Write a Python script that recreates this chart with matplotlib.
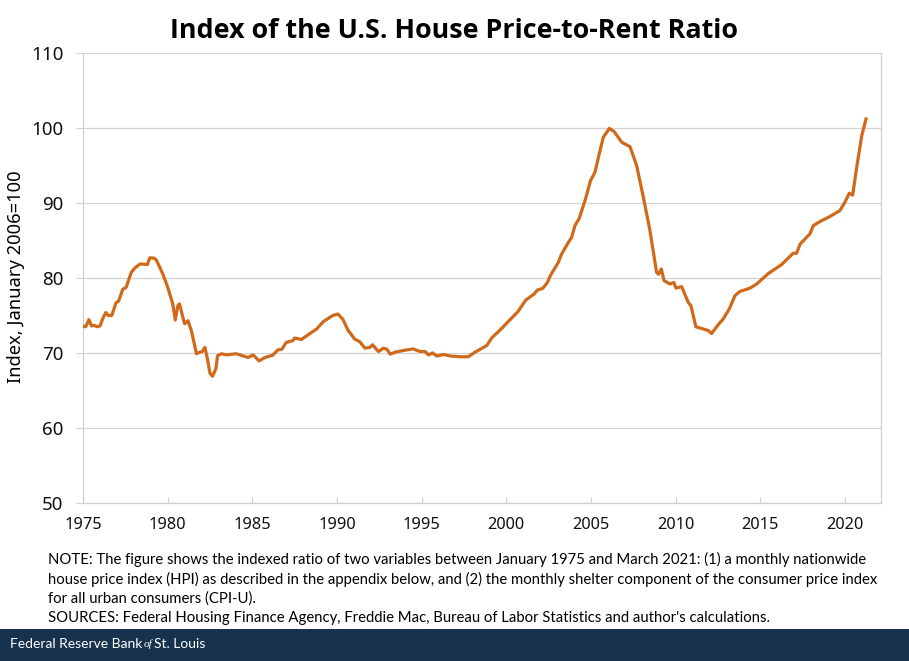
import matplotlib.pyplot as plt
from matplotlib.patches import Rectangle

W, H = 909, 661

years = [
    1975.0, 1975.16, 1975.35, 1975.5, 1975.65, 1975.83, 1976.0, 1976.2, 1976.35, 1976.5,
    1976.7, 1976.95, 1977.1, 1977.35, 1977.55, 1977.85, 1978.05, 1978.35, 1978.55, 1978.8,
    1978.95, 1979.2, 1979.33, 1979.72, 1980.0, 1980.3, 1980.45, 1980.6, 1980.7, 1980.87,
    1981.0, 1981.2, 1981.4, 1981.7, 1981.9, 1982.05, 1982.2, 1982.35, 1982.5, 1982.65,
    1982.85, 1982.95, 1983.2, 1983.45, 1984.05, 1984.75, 1985.05, 1985.4, 1985.75, 1986.2,
    1986.5, 1986.75, 1987.0, 1987.4, 1987.5, 1987.9, 1988.5, 1988.8, 1989.2, 1989.75,
    1990.05, 1990.35, 1990.65, 1991.05, 1991.35, 1991.65, 1991.95, 1992.1, 1992.45, 1992.75,
    1992.95, 1993.15, 1993.5, 1994.1, 1994.5, 1994.9, 1995.2, 1995.4, 1995.65, 1995.9,
    1996.3, 1996.7, 1997.25, 1997.76, 1998.15, 1998.85, 1999.14, 1999.63, 2000.12, 2000.7,
    2001.15, 2001.64, 2001.84, 2002.15, 2002.43, 2002.6, 2003.08, 2003.27, 2003.67, 2003.86,
    2004.06, 2004.3, 2004.65, 2004.98, 2005.24, 2005.54, 2005.73, 2006.09, 2006.36, 2006.62,
    2006.82, 2007.31, 2007.7, 2008.1, 2008.49, 2008.88, 2009.0, 2009.16, 2009.32, 2009.67,
    2009.9, 2010.03, 2010.36, 2010.75, 2010.91, 2011.2, 2011.64, 2011.93, 2012.13, 2012.53,
    2012.82, 2013.18, 2013.51, 2013.8, 2014.4, 2014.79, 2015.48, 2016.27, 2016.95, 2017.15,
    2017.35, 2017.94, 2018.14, 2018.63, 2019.12, 2019.71, 2020.0, 2020.26, 2020.46, 2020.7,
    2021.0, 2021.25,
]
ratio = [
    73.55, 73.5, 74.45, 73.6, 73.7, 73.5, 73.6, 74.75, 75.4, 75.0,
    75.0, 76.7, 76.9, 78.5, 78.75, 80.75, 81.3, 81.85, 81.85, 81.8,
    82.7, 82.65, 82.4, 80.5, 78.8, 76.55, 74.4, 76.3, 76.55, 75.0,
    73.9, 74.3, 73.0, 69.9, 70.1, 70.2, 70.75, 69.2, 67.3, 66.9,
    67.9, 69.65, 69.9, 69.75, 69.9, 69.4, 69.75, 68.95, 69.4, 69.7,
    70.4, 70.5, 71.4, 71.65, 72.0, 71.8, 72.75, 73.2, 74.2, 75.0,
    75.2, 74.5, 73.05, 71.85, 71.5, 70.65, 70.75, 71.1, 70.2, 70.65,
    70.5, 69.85, 70.15, 70.4, 70.55, 70.2, 70.2, 69.75, 70.0, 69.6,
    69.8, 69.6, 69.5, 69.5, 70.1, 71.0, 72.0, 73.05, 74.2, 75.55,
    77.05, 77.85, 78.4, 78.6, 79.4, 80.3, 82.1, 83.2, 84.75, 85.4,
    87.0, 87.9, 90.3, 93.0, 94.1, 97.0, 98.75, 99.95, 99.55, 98.75,
    98.1, 97.5, 95.0, 90.75, 86.3, 80.75, 80.5, 81.2, 79.65, 79.2,
    79.4, 78.65, 78.85, 76.75, 76.3, 73.5, 73.2, 73.0, 72.6, 73.8,
    74.55, 75.9, 77.65, 78.2, 78.65, 79.2, 80.6, 81.8, 83.3, 83.3,
    84.5, 85.9, 87.0, 87.65, 88.2, 89.0, 90.1, 91.3, 91.05, 94.75,
    99.0, 101.2,
]
year_ticks = [1975, 1980, 1985, 1990, 1995, 2000, 2005, 2010, 2015, 2020]
value_ticks = [50, 60, 70, 80, 90, 100, 110]

title = "Index of the U.S. House Price-to-Rent Ratio"
ylabel = "Index, January 2006=100"
note_lines = [
    "NOTE: The figure shows the indexed ratio of two variables between January 1975 and March 2021: (1) a monthly nationwide",
    "house price index (HPI) as described in the appendix below, and (2) the monthly shelter component of the consumer price index",
    "for all urban consumers (CPI-U).",
    "SOURCES: Federal Housing Finance Agency, Freddie Mac, Bureau of Labor Statistics and author's calculations.",
]
note_y = [559, 579, 599, 618]

plt.rcParams["font.family"] = "Noto Sans"

fig = plt.figure(figsize=(W / 100, H / 100), dpi=100, facecolor="white")
ax = fig.add_axes([83 / W, 1 - 503 / H, (881 - 83) / W, 450 / H])

ax.plot(years, ratio, color="#d0691a", lw=2.3, solid_joinstyle="round", zorder=3)

ax.set_xlim(1975, 1975 + (881 - 83) / 16.93)
ax.set_ylim(50, 110)
ax.set_xticks(year_ticks)
ax.set_yticks(value_ticks)
ax.tick_params(axis="x", direction="in", length=4, width=0.8, color="#d0d0d0", labelsize=11.8, pad=10, labelcolor="#111111")
ax.tick_params(axis="y", direction="out", length=5, width=0.8, color="#d4d4d4", labelsize=13.5, pad=9, labelcolor="#111111")
ax.grid(axis="y", color="#d4d4d4", lw=0.9)
ax.set_axisbelow(True)
ax.spines["top"].set_visible(False)
for side in ["left", "right", "bottom"]:
    ax.spines[side].set_color("#d0d0d0")
    ax.spines[side].set_linewidth(0.9)

fig.text(454 / W, 1 - 31 / H, title, ha="center", va="center", fontsize=19.4, fontweight="bold", family="Open Sans")
fig.text(16 / W, 1 - 277 / H, ylabel, rotation=90, ha="center", va="center", fontsize=13.2)

for line, y in zip(note_lines, note_y):
    fig.text(48 / W, 1 - y / H, line, ha="left", va="center", fontsize=10.7, family="Lato")

fig.add_artist(Rectangle((0, 0), 1, (H - 629) / H, transform=fig.transFigure, color="#17324d", lw=0))
fig.text(10 / W, 1 - 644 / H, "Federal Reserve Bank", ha="left", va="center", fontsize=10, color="white", family="Lato")
fig.text(144 / W, 1 - 644 / H, "of", ha="left", va="center", fontsize=8, color="white", style="italic", family="Liberation Serif")
fig.text(154 / W, 1 - 644 / H, "St. Louis", ha="left", va="center", fontsize=10, color="white", family="Lato")

fig.savefig("out.png", dpi=100)
